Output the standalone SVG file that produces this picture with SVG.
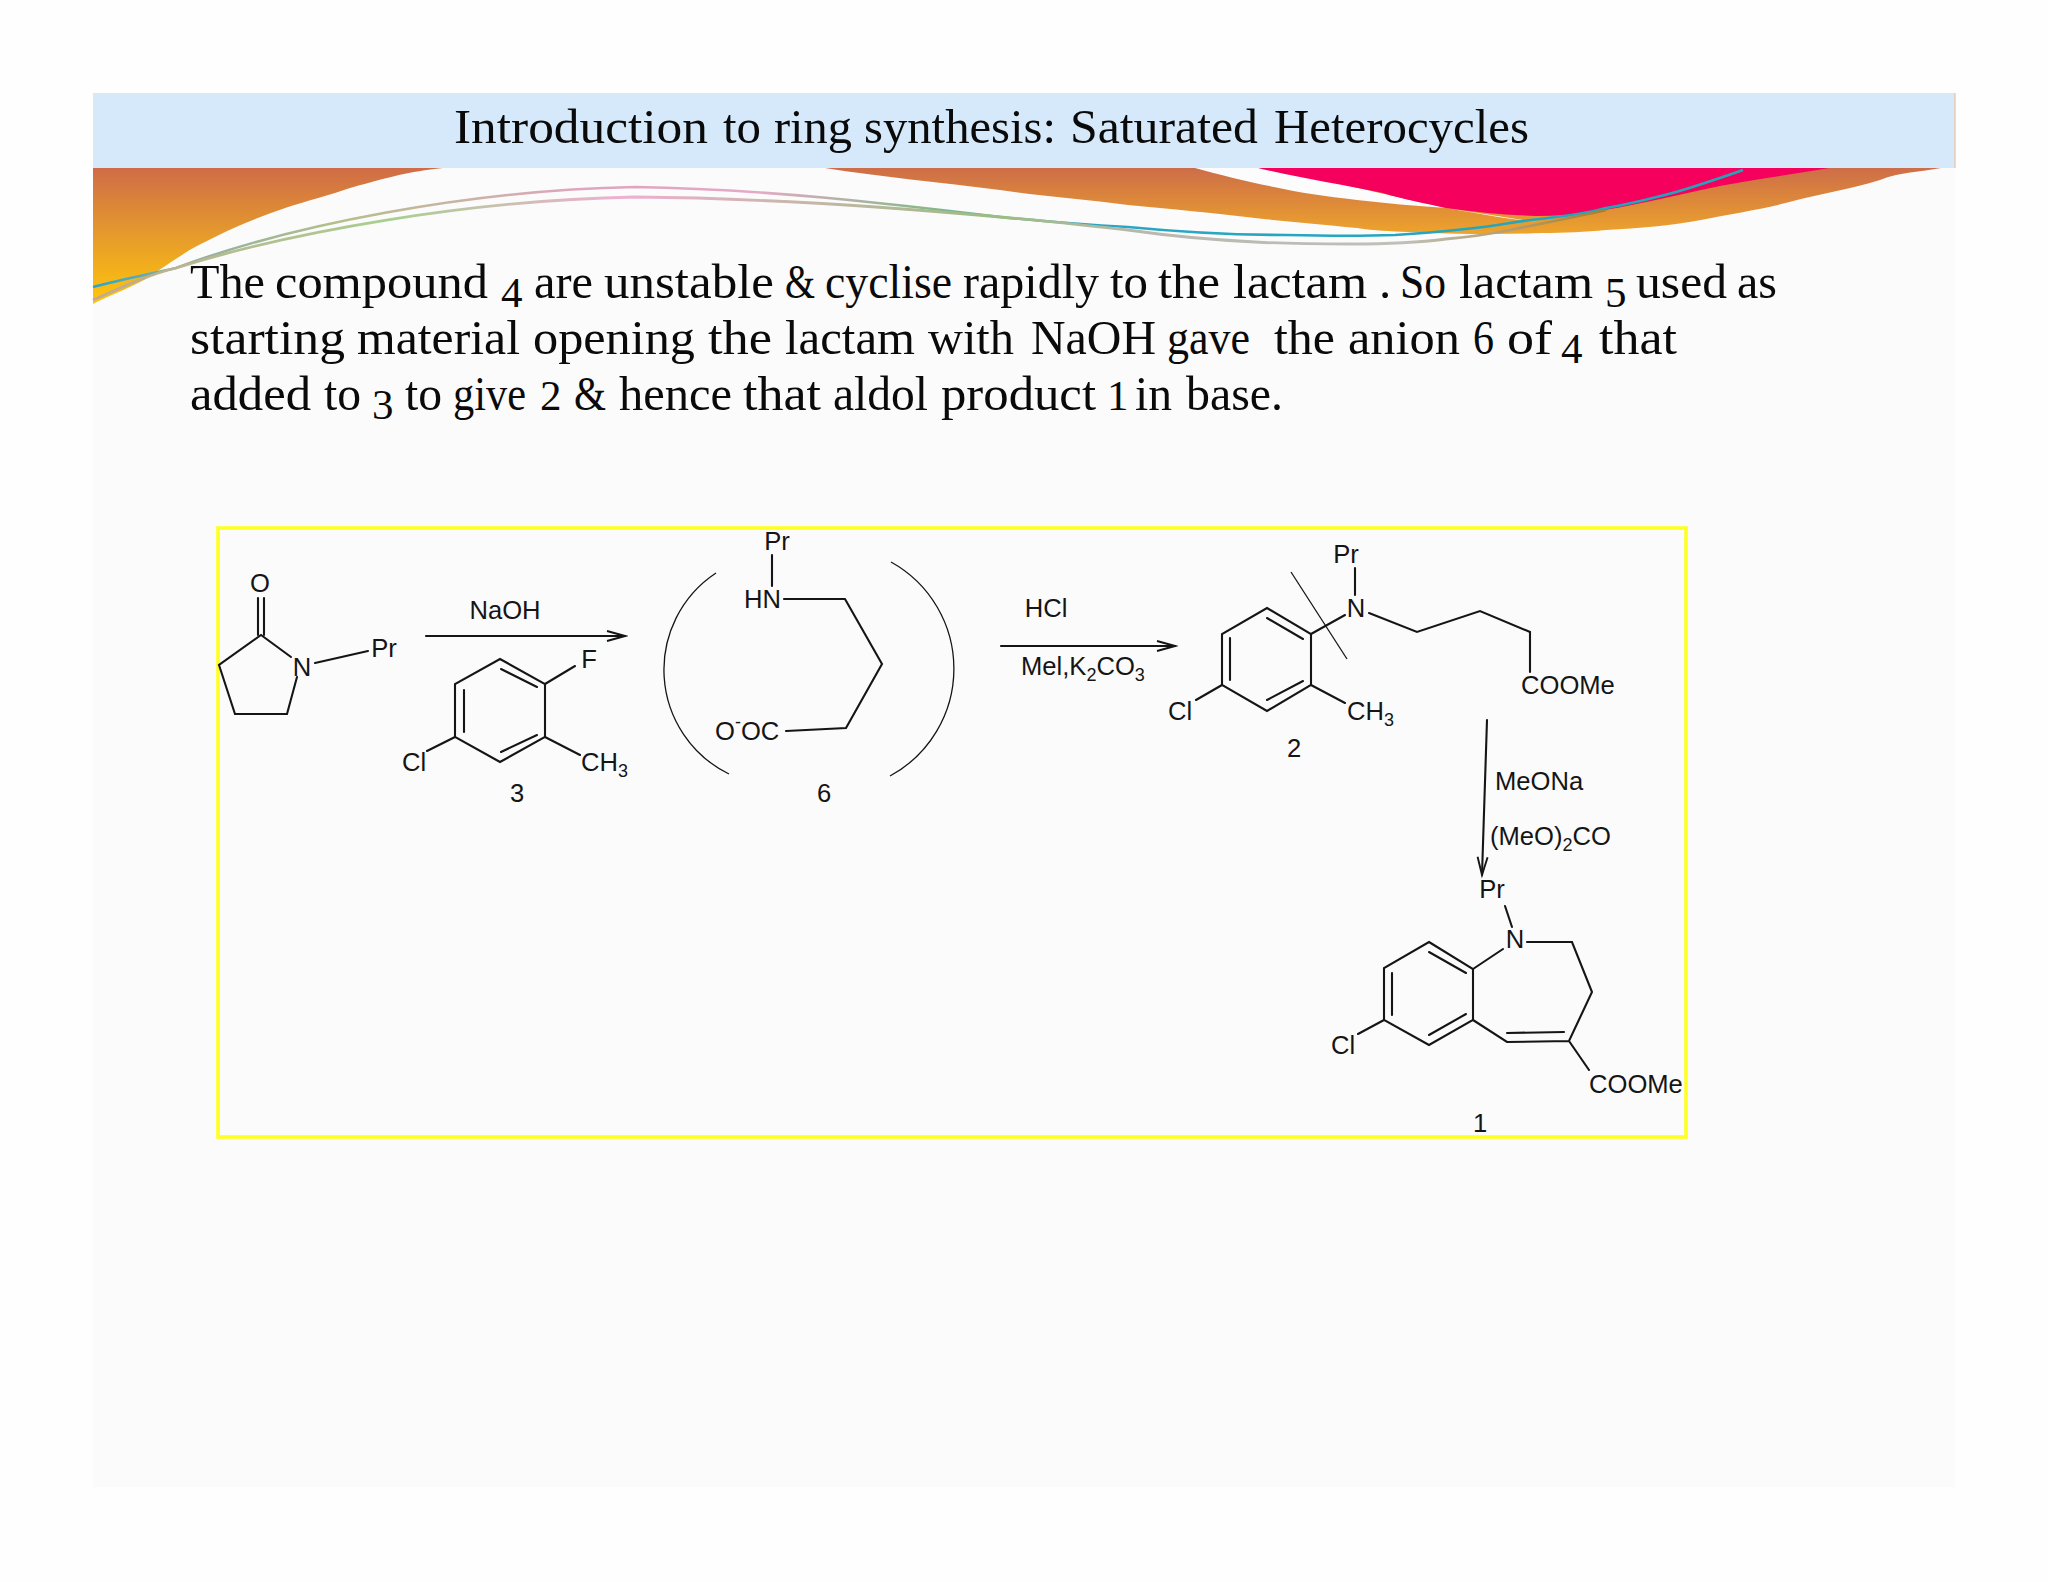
<svg xmlns="http://www.w3.org/2000/svg" width="2048" height="1582" viewBox="0 0 2048 1582">
<style>
.b{fill:none;stroke:#151515;stroke-width:2.1;stroke-linejoin:miter;stroke-linecap:round}
.t{fill:none;stroke:#151515;stroke-width:1.3}
.c{font-family:"Liberation Sans",Arial,sans-serif;font-size:25.6px;fill:#151515}
.s{font-size:18px}
.h{font-family:"Liberation Serif","Times New Roman",serif;font-size:49px;fill:#0a0a0a}
.d{font-size:43px}
.m{text-anchor:middle}
</style>
<defs>
<linearGradient id="og1" gradientUnits="userSpaceOnUse" x1="0" y1="168" x2="0" y2="302"><stop offset="0" stop-color="#cf6c47"/><stop offset="0.45" stop-color="#e3962f"/><stop offset="1" stop-color="#ffc40c"/></linearGradient>
<linearGradient id="og2" gradientUnits="userSpaceOnUse" x1="0" y1="168" x2="0" y2="240"><stop offset="0" stop-color="#cd6d49"/><stop offset="1" stop-color="#f0a928"/></linearGradient>
<linearGradient id="l1" gradientUnits="userSpaceOnUse" x1="93" y1="0" x2="1750" y2="0"><stop offset="0" stop-color="#27a6cf"/><stop offset="0.06" stop-color="#8fb0a0"/><stop offset="0.15" stop-color="#b4c08a"/><stop offset="0.3" stop-color="#e0a4c0"/><stop offset="0.4" stop-color="#e5a9c4"/><stop offset="0.5" stop-color="#88b98a"/><stop offset="0.6" stop-color="#2aa6c4"/><stop offset="1" stop-color="#22a5b8"/></linearGradient>
<linearGradient id="l2" gradientUnits="userSpaceOnUse" x1="93" y1="0" x2="1600" y2="0"><stop offset="0" stop-color="#c2aa8f"/><stop offset="0.2" stop-color="#a8cf90"/><stop offset="0.35" stop-color="#eeb0d0"/><stop offset="0.6" stop-color="#9cbc80"/><stop offset="0.7" stop-color="#b8b8b0"/><stop offset="0.87" stop-color="#c0c0b8"/><stop offset="1" stop-color="#a88030"/></linearGradient>
<marker id="ah" markerUnits="userSpaceOnUse" markerWidth="22" markerHeight="14" refX="19" refY="6" orient="auto"><path d="M1,1 L19,6 L1,11" fill="none" stroke="#151515" stroke-width="1.9"/></marker>
</defs>

<g id="background">
<rect width="2048" height="1582" fill="#fefefe"/>
<rect x="93" y="93" width="1862" height="1394" fill="#fbfbfc"/>
<path d="M93,168 L443,168 C425,170 412,172 399,175 C375,181 355,186 335,193 C312,200 292,205 271,213 C250,221 233,228 217,236 C203,243 192,248 182,255 C168,264 156,272 144,280 C125,290 108,296 93,304 Z" fill="url(#og1)"/>
<path d="M825,168 L1941,168 C1920,172 1900,172 1880,180 C1850,189 1825,193 1797,200 C1765,209 1735,213 1701,220 C1670,226 1640,228 1606,230 C1585,232 1565,233 1542,233 C1500,235 1450,234 1408,232 C1390,231 1375,231 1357,228 C1320,224 1290,222 1255,218 C1215,213 1170,209 1128,205 C1085,199 1040,196 1000,190 C940,182 880,177 825,168 Z" fill="url(#og2)"/>
<path d="M1195,168 L1270,168 L1446,208 L1536,222 C1500,218 1470,212 1446,208 C1415,206 1385,203 1357,200 C1325,196 1300,193 1274,187 C1245,181 1220,175 1195,168 Z" fill="#fdfcfd"/>
<path d="M1258,168 L1829,168 C1785,176 1745,180 1701,190 C1665,198 1630,206 1593,212 C1575,215 1555,216 1536,216 C1505,215 1475,212 1446,208 C1425,203 1405,200 1383,193 C1340,184 1298,178 1258,168 Z" fill="#f5005c"/>
<path d="M93,287 C120,280 150,274 176,268 C290,225 470,190 635,187 C770,189 900,205 1000,217 C1050,222 1090,225 1128,227 C1190,233 1240,235 1287,235 C1330,236 1365,236 1395,235 C1440,232 1475,229 1510,223 C1545,217 1575,217 1606,208 C1630,204 1650,199 1676,192 C1700,185 1720,178 1743,170" fill="none" stroke="url(#l1)" stroke-width="2.6"/>
<path d="M93,300 C120,288 150,274 176,268 C290,232 470,200 635,197 C770,198 900,208 1000,217 C1050,221 1090,226 1128,230 C1170,236 1215,240 1255,242 C1290,244 1320,244 1351,244 C1385,244 1415,243 1446,239 C1470,237 1490,234 1510,230 C1545,223 1575,217 1606,210" fill="none" stroke="url(#l2)" stroke-width="2.8"/>
<rect x="93" y="93" width="1862" height="75" fill="#d6e9fb"/>
<path d="M1955,93 V168" stroke="#e8c39e" stroke-width="1.2" fill="none"/>
</g>

<g id="slide-text">
<text class="h" y="143"><tspan x="454" textLength="254" lengthAdjust="spacingAndGlyphs">Introduction</tspan> <tspan x="723" textLength="38" lengthAdjust="spacingAndGlyphs">to</tspan> <tspan x="774" textLength="78" lengthAdjust="spacingAndGlyphs">ring</tspan> <tspan x="864" textLength="192" lengthAdjust="spacingAndGlyphs">synthesis:</tspan> <tspan x="1070" textLength="188" lengthAdjust="spacingAndGlyphs">Saturated</tspan> <tspan x="1274" textLength="255" lengthAdjust="spacingAndGlyphs">Heterocycles</tspan></text>
<text class="h" y="298"><tspan x="190" textLength="75" lengthAdjust="spacingAndGlyphs">The</tspan> <tspan x="275" textLength="213" lengthAdjust="spacingAndGlyphs">compound</tspan> <tspan class="d" x="501" y="307">4</tspan> <tspan x="534" y="298" textLength="59" lengthAdjust="spacingAndGlyphs">are</tspan> <tspan x="604" textLength="170" lengthAdjust="spacingAndGlyphs">unstable</tspan> <tspan x="785" textLength="30" lengthAdjust="spacingAndGlyphs">&amp;</tspan> <tspan x="825" textLength="127" lengthAdjust="spacingAndGlyphs">cyclise</tspan> <tspan x="963" textLength="136" lengthAdjust="spacingAndGlyphs">rapidly</tspan> <tspan x="1110" textLength="38" lengthAdjust="spacingAndGlyphs">to</tspan> <tspan x="1158" textLength="62" lengthAdjust="spacingAndGlyphs">the</tspan> <tspan x="1233" textLength="134" lengthAdjust="spacingAndGlyphs">lactam</tspan> <tspan x="1379">.</tspan> <tspan x="1400" textLength="46" lengthAdjust="spacingAndGlyphs">So</tspan> <tspan x="1459" textLength="134" lengthAdjust="spacingAndGlyphs">lactam</tspan> <tspan class="d" x="1605" y="307">5</tspan> <tspan x="1636" y="298" textLength="91" lengthAdjust="spacingAndGlyphs">used</tspan> <tspan x="1737" textLength="40" lengthAdjust="spacingAndGlyphs">as</tspan></text>
<text class="h" y="354"><tspan x="190" textLength="155" lengthAdjust="spacingAndGlyphs">starting</tspan> <tspan x="357" textLength="163" lengthAdjust="spacingAndGlyphs">material</tspan> <tspan x="533" textLength="162" lengthAdjust="spacingAndGlyphs">opening</tspan> <tspan x="708" textLength="64" lengthAdjust="spacingAndGlyphs">the</tspan> <tspan x="785" textLength="130" lengthAdjust="spacingAndGlyphs">lactam</tspan> <tspan x="928" textLength="86" lengthAdjust="spacingAndGlyphs">with</tspan> <tspan x="1031" textLength="125" lengthAdjust="spacingAndGlyphs">NaOH</tspan> <tspan x="1167" textLength="83" lengthAdjust="spacingAndGlyphs">gave</tspan> <tspan x="1274" textLength="61" lengthAdjust="spacingAndGlyphs">the</tspan> <tspan x="1348" textLength="112" lengthAdjust="spacingAndGlyphs">anion</tspan> <tspan x="1473" textLength="21" lengthAdjust="spacingAndGlyphs">6</tspan> <tspan x="1507" textLength="45" lengthAdjust="spacingAndGlyphs">of</tspan> <tspan class="d" x="1561" y="363">4</tspan> <tspan x="1599" y="354" textLength="78" lengthAdjust="spacingAndGlyphs">that</tspan></text>
<text class="h" y="410"><tspan x="190" textLength="121" lengthAdjust="spacingAndGlyphs">added</tspan> <tspan x="324" textLength="37" lengthAdjust="spacingAndGlyphs">to</tspan> <tspan class="d" x="372" y="419">3</tspan> <tspan x="405" y="410" textLength="37" lengthAdjust="spacingAndGlyphs">to</tspan> <tspan x="453" textLength="73" lengthAdjust="spacingAndGlyphs">give</tspan> <tspan class="d" x="540">2</tspan> <tspan x="574" textLength="32" lengthAdjust="spacingAndGlyphs">&amp;</tspan> <tspan x="619" textLength="113" lengthAdjust="spacingAndGlyphs">hence</tspan> <tspan x="743" textLength="78" lengthAdjust="spacingAndGlyphs">that</tspan> <tspan x="833" textLength="95" lengthAdjust="spacingAndGlyphs">aldol</tspan> <tspan x="941" textLength="155" lengthAdjust="spacingAndGlyphs">product</tspan> <tspan class="d" x="1107">1</tspan> <tspan x="1135" textLength="37" lengthAdjust="spacingAndGlyphs">in</tspan> <tspan x="1186" textLength="97" lengthAdjust="spacingAndGlyphs">base.</tspan></text>
</g>

<g id="frame"><rect x="218" y="528" width="1468" height="609" fill="none" stroke="#ffff22" stroke-width="3.6"/></g>

<g id="connectors">
<path class="b" d="M426,636 H625" marker-end="url(#ah)"/>
<path class="b" d="M1001,646 H1175" marker-end="url(#ah)"/>
<path class="b" d="M1487,720 L1482,875" marker-end="url(#ah)"/>
</g>

<g id="lactam-5">
<path class="b" d="M291,657 L261,635 L219,665 L235,714 L287,714 L297,677"/>
<path class="b" d="M258,635 V598 M264,635 V598"/>
<path class="b" d="M315,663 L368,651"/>
<text class="c m" x="260" y="592">O</text>
<text class="c m" x="302" y="676">N</text>
<text class="c m" x="384" y="657">Pr</text>
</g>

<g id="reagent-naoh"><text class="c m" x="505" y="619">NaOH</text></g>

<g id="compound-3">
<path class="b" d="M500,659 L545,684 V737 L500,762 L455,737 V684 Z"/>
<path class="b" d="M501,669 L537,687 M464,690 V732 M501,752 L537,735"/>
<path class="b" d="M545,684 L575,666 M545,737 L580,755 M455,737 L427,751"/>
<text class="c m" x="589" y="668">F</text>
<text class="c" x="581" y="771">CH<tspan class="s" dy="6">3</tspan></text>
<text class="c m" x="414" y="771">Cl</text>
<text class="c m" x="517" y="802">3</text>
</g>

<g id="anion-6">
<path class="t" d="M716,573 A116,116 0 0 0 729,774"/>
<path class="t" d="M891,562 A122,122 0 0 1 890,776"/>
<path class="b" d="M772,555 V586 M784,599 H845 L882,664 L846,728 L786,731"/>
<text class="c m" x="777" y="550">Pr</text>
<text class="c" x="744" y="608">HN</text>
<text class="c" x="715" y="740">O<tspan class="s" dy="-12">-</tspan><tspan dy="12">OC</tspan></text>
<text class="c m" x="824" y="802">6</text>
</g>

<g id="reagents-hcl">
<text class="c m" x="1046" y="617">HCl</text>
<text class="c" x="1021" y="675">Mel,K<tspan class="s" dy="6">2</tspan><tspan dy="-6">CO</tspan><tspan class="s" dy="6">3</tspan></text>
</g>

<g id="compound-2">
<path class="b" d="M1267,608 L1311,634 V685 L1267,711 L1222,685 V634 Z"/>
<path class="b" d="M1267,618 L1303,639 M1230,638 V680 M1267,700 L1303,681"/>
<path class="b" d="M1311,634 L1345,615 M1355,568 V595 M1369,613 L1417,632 L1480,611 L1530,632 V672 M1311,685 L1345,703 M1222,685 L1196,700"/>
<path class="t" d="M1291,572 L1347,659"/>
<text class="c m" x="1346" y="563">Pr</text>
<text class="c m" x="1356" y="617">N</text>
<text class="c" x="1521" y="694">COOMe</text>
<text class="c" x="1347" y="720">CH<tspan class="s" dy="6">3</tspan></text>
<text class="c m" x="1180" y="720">Cl</text>
<text class="c m" x="1294" y="757">2</text>
</g>

<g id="reagents-meona">
<text class="c" x="1495" y="790">MeONa</text>
<text class="c" x="1490" y="845">(MeO)<tspan class="s" dy="6">2</tspan><tspan dy="-6">CO</tspan></text>
</g>

<g id="product-1">
<path class="b" d="M1429,942 L1473,969 V1020 L1429,1045 L1384,1020 V968 Z"/>
<path class="b" d="M1429,952 L1466,973 M1392,973 V1015 M1429,1035 L1466,1014"/>
<path class="b" d="M1503,949 L1473,969 M1473,1020 L1507,1042 L1569,1041 L1592,992 L1572,942 H1527 M1507,1033 L1564,1032 M1569,1041 L1589,1070 M1505,906 L1512,927 M1384,1020 L1358,1034"/>
<text class="c m" x="1492" y="898">Pr</text>
<text class="c m" x="1515" y="948">N</text>
<text class="c" x="1589" y="1093">COOMe</text>
<text class="c m" x="1343" y="1054">Cl</text>
<text class="c m" x="1480" y="1132">1</text>
</g>
</svg>
